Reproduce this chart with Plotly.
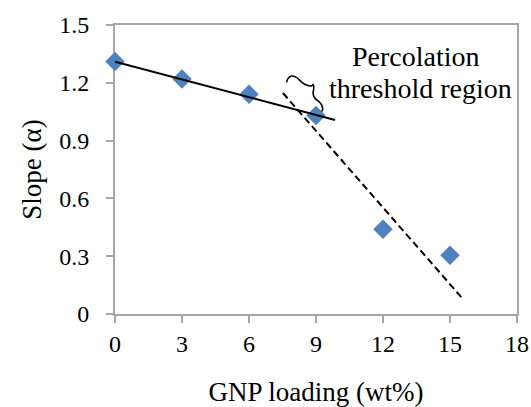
import plotly.graph_objects as go

# Data
gnp_loading = [0, 3, 6, 9, 12, 15]
slope_alpha = [1.31, 1.22, 1.14, 1.03, 0.44, 0.305]

# Trend lines (endpoints)
fit_low_x = [0, 9.85]
fit_low_y = [1.31, 1.007]
fit_high_x = [7.52, 15.54]
fit_high_y = [1.147, 0.083]

# Brace outline (data units)
brace_x = [7.68, 7.75, 7.90, 8.12, 8.35, 8.57, 8.80, 8.88, 8.90, 8.87, 8.95, 9.14, 9.25, 9.30, 9.25]
brace_y = [1.202, 1.223, 1.235, 1.228, 1.205, 1.188, 1.184, 1.191, 1.172, 1.145, 1.120, 1.102, 1.085, 1.064, 1.050]

x_ticks = [0, 3, 6, 9, 12, 15, 18]
x_ticktext = ["0", "3", "6", "9", "12", "15", "18"]
y_ticks = [0, 0.3, 0.6, 0.9, 1.2, 1.5]
y_ticktext = ["0", "0.3", "0.6", "0.9", "1.2", "1.5"]

FONT = "Liberation Serif, Times New Roman, serif"
AXC = "#a6a6a6"

fig = go.Figure()
fig.add_trace(go.Scatter(
    x=gnp_loading, y=slope_alpha, mode="markers",
    marker=dict(symbol="diamond", size=15, color="#4F81BD", line=dict(width=0)),
    cliponaxis=False, showlegend=False))
fig.add_trace(go.Scatter(
    x=fit_low_x, y=fit_low_y, mode="lines",
    line=dict(color="black", width=2), cliponaxis=False, showlegend=False))
fig.add_trace(go.Scatter(
    x=fit_high_x, y=fit_high_y, mode="lines",
    line=dict(color="black", width=2, dash="7px,4px"), cliponaxis=False, showlegend=False))

fig.add_trace(go.Scatter(
    x=brace_x, y=brace_y, mode="lines", line=dict(color="black", width=1.6, shape="spline", smoothing=1.0),
    cliponaxis=False, showlegend=False, hoverinfo="skip"))

fig.add_annotation(x=13.48, y=1.334, xref="x", yref="y", text="Percolation",
                   showarrow=False, font=dict(family=FONT, size=28, color="black"),
                   xanchor="center", yanchor="middle")
fig.add_annotation(x=13.66, y=1.168, xref="x", yref="y", text="threshold region",
                   showarrow=False, font=dict(family=FONT, size=28, color="black"),
                   xanchor="center", yanchor="middle")

fig.update_layout(
    width=531, height=407,
    margin=dict(l=115, r=14, t=25, b=93),
    paper_bgcolor="white", plot_bgcolor="white",
    font=dict(family=FONT, size=24, color="black"),
    showlegend=False,
)
fig.update_xaxes(
    range=[0, 18], tickvals=x_ticks, ticktext=x_ticktext,
    showgrid=False, zeroline=False, showline=True, linecolor=AXC, linewidth=2,
    mirror=True, ticks="outside", ticklen=7, tickcolor=AXC, tickwidth=2,
    layer="below traces", automargin=False,
    title=dict(text="GNP loading (wt%)", font=dict(family=FONT, size=27), standoff=30),
    tickfont=dict(family=FONT, size=24),
)
fig.update_yaxes(
    range=[0, 1.5], tickvals=y_ticks, ticktext=y_ticktext,
    showgrid=False, zeroline=False, showline=True, linecolor=AXC, linewidth=2,
    mirror=True, ticks="outside", ticklen=7, tickcolor=AXC, tickwidth=2,
    layer="below traces", ticklabelstandoff=12, automargin=False,
    title=dict(text="Slope (α)", font=dict(family=FONT, size=27), standoff=10),
    tickfont=dict(family=FONT, size=24),
)

fig.write_html("out.html")
